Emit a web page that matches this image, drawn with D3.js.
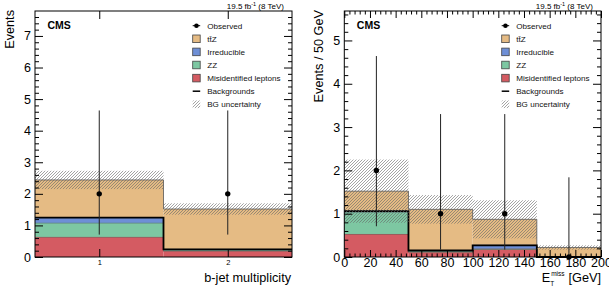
<!DOCTYPE html>
<html>
<head>
<meta charset="utf-8">
<script src="https://cdn.jsdelivr.net/npm/d3@7"></script>
<style>
  body { margin: 0; background: #fff; }
  svg { display: block; font-family: "Liberation Sans", Arial, Helvetica, sans-serif; }
</style>
</head>
<body>
<div id="chart"></div>
<script>
// ---- data ----
const legendLabels = ["Observed", "tt\u0304Z", "Irreducible", "ZZ", "Misidentified leptons", "Backgrounds", "BG uncertainty"];
const procKeys = ["misid", "zz", "irr", "ttz"];
const procColors = { ttz: "#e5bb84", irr: "#6e8fd6", zz: "#7dc7a2", misid: "#d45b62" };

// b-jet multiplicity panel
const bjetEdges = [0.5, 1.5, 2.5];
const bjetTicks = [1, 2];
const bjetMisid = [0.62, 0.18];
const bjetZZ    = [0.45, 0.03];
const bjetIrr   = [0.18, 0.03];
const bjetTtz   = [1.19, 1.28];
const bjetUnc   = [0.29, 0.18];
const bjetObs   = [2, 2];
const bjetObsLo = [0.71, 0.71];
const bjetObsHi = [4.64, 4.64];

// MET panel
const metEdges = [0, 50, 100, 150, 200];
const metTicks = [0, 20, 40, 60, 80, 100, 120, 140, 160, 180, 200];
const metMisid = [0.52, 0.10, 0.18, 0.00];
const metZZ    = [0.51, 0.03, 0.00, 0.00];
const metIrr   = [0.03, 0.02, 0.09, 0.00];
const metTtz   = [0.46, 0.95, 0.60, 0.22];
const metUnc   = [0.73, 0.33, 0.44, 0.05];
const metObs   = [2, 1, 1, 0];
const metObsLo = [0.71, 0.17, 0.17, 0];
const metObsHi = [4.64, 3.30, 3.30, 1.84];

const W = 609, H = 287;
const svg = d3.select("#chart").append("svg").attr("width", W).attr("height", H);

// hatch pattern for the uncertainty band
svg.append("defs").append("pattern")
   .attr("id", "hatch").attr("patternUnits", "userSpaceOnUse")
   .attr("width", 3).attr("height", 3)
   .append("path")
   .attr("d", "M-1,1 l2,-2 M0,3 l3,-3 M2,4 l2,-2")
   .attr("stroke", "#666").attr("stroke-width", 0.6);

function drawPanel(o) {
  const x = d3.scaleLinear().domain([o.edges[0], o.edges[o.edges.length - 1]]).range([o.x0, o.x1]);
  const y = d3.scaleLinear().domain([0, o.yMax]).range([o.y1, o.y0]);
  const g = svg.append("g");

  const bins = o.edges.slice(0, -1).map((e, i) => ({
    lo: e, hi: o.edges[i + 1],
    misid: o.misid[i], zz: o.zz[i], irr: o.irr[i], ttz: o.ttz[i]
  }));
  const layers = d3.stack().keys(procKeys)(bins);

  // stacked fills
  layers.forEach(layer => {
    g.selectAll(null).data(layer).enter().append("rect")
     .attr("x", d => x(d.data.lo))
     .attr("width", d => x(d.data.hi) - x(d.data.lo))
     .attr("y", d => y(d[1]))
     .attr("height", d => y(d[0]) - y(d[1]))
     .attr("fill", procColors[layer.key]);
  });

  const step = d3.line().curve(d3.curveStepAfter).x(d => x(d[0])).y(d => y(d[1]));
  const stepPts = vals => o.edges.map((e, i) => [e, vals[Math.min(i, vals.length - 1)]]);

  // thin outlines of each layer top
  layers.forEach(layer => {
    g.append("path")
     .attr("d", step(stepPts(layer.map(d => d[1]))))
     .attr("fill", "none")
     .attr("stroke", layer.key === "ttz" ? "#555" : d3.color(procColors[layer.key]).darker(1))
     .attr("stroke-width", 0.8);
  });

  // Backgrounds line (sum w/o ttZ)
  const bkg = bins.map(b => b.misid + b.zz + b.irr);
  g.append("path").attr("d", step(stepPts(bkg)))
   .attr("fill", "none").attr("stroke", "#000").attr("stroke-width", 1.8);

  // uncertainty band
  const tot = bins.map(b => b.misid + b.zz + b.irr + b.ttz);
  g.selectAll(null).data(bins).enter().append("rect")
   .attr("x", d => x(d.lo))
   .attr("width", d => x(d.hi) - x(d.lo))
   .attr("y", (d, i) => y(tot[i] + o.unc[i]))
   .attr("height", (d, i) => y(Math.max(0, tot[i] - o.unc[i])) - y(tot[i] + o.unc[i]))
   .attr("fill", "url(#hatch)");

  // observed
  const centers = bins.map(b => (b.lo + b.hi) / 2);
  g.selectAll(null).data(o.obs).enter().append("line")
   .attr("x1", (d, i) => x(centers[i])).attr("x2", (d, i) => x(centers[i]))
   .attr("y1", (d, i) => y(o.obsLo[i])).attr("y2", (d, i) => y(o.obsHi[i]))
   .attr("stroke", "#222").attr("stroke-width", 1);
  g.selectAll(null).data(o.obs).enter().append("circle")
   .attr("cx", (d, i) => x(centers[i])).attr("cy", d => y(d))
   .attr("r", 2.7).attr("fill", "#000");

  // axes (ticks pointing inward on all four sides)
  const yMajor = d3.range(0, Math.floor(o.yMax) + 1);
  const yMinor = d3.range(0, o.yMax, 0.2).filter(v => Math.abs(v - Math.round(v)) > 1e-6);
  const ax = (gen, tr) => {
    const a = g.append("g").attr("transform", tr).call(gen);
    a.select(".domain").remove();
    a.selectAll("line").attr("stroke", "#000");
    return a;
  };
  ax(d3.axisLeft(y).tickValues(yMajor).tickSize(-8).tickPadding(4).tickFormat(d3.format("d")), `translate(${o.x0},0)`)
    .selectAll("text").attr("font-size", 12.5).attr("font-family", null).attr("fill", "#000");
  ax(d3.axisLeft(y).tickValues(yMinor).tickSize(-4).tickFormat(""), `translate(${o.x0},0)`);
  ax(d3.axisRight(y).tickValues(yMajor).tickSize(-8).tickFormat(""), `translate(${o.x1},0)`);
  ax(d3.axisRight(y).tickValues(yMinor).tickSize(-4).tickFormat(""), `translate(${o.x1},0)`);

  ax(d3.axisBottom(x).tickValues(o.xTicks).tickSize(-o.xTickLen).tickPadding(o.xPad).tickFormat(d3.format("d")), `translate(0,${o.y1})`)
    .selectAll("text").attr("font-size", o.xFont).attr("font-family", null).attr("fill", "#000");
  ax(d3.axisTop(x).tickValues(o.xTicks).tickSize(-o.xTickLen).tickFormat(""), `translate(0,${o.y0})`);
  if (o.xMinor) {
    ax(d3.axisBottom(x).tickValues(o.xMinor).tickSize(-3.5).tickFormat(""), `translate(0,${o.y1})`);
    ax(d3.axisTop(x).tickValues(o.xMinor).tickSize(-3.5).tickFormat(""), `translate(0,${o.y0})`);
  }

  // frame
  g.append("rect").attr("x", o.x0).attr("y", o.y0)
   .attr("width", o.x1 - o.x0).attr("height", o.y1 - o.y0)
   .attr("fill", "none").attr("stroke", "#000").attr("stroke-width", 1);

  // CMS label and lumi
  g.append("text").attr("x", o.x0 + 12.5).attr("y", 28.5)
   .attr("font-size", 10.5).attr("font-weight", "bold").text("CMS");
  const lumi = g.append("text").attr("x", o.x1 - 8).attr("y", 8.5)
   .attr("font-size", 8).attr("text-anchor", "end");
  lumi.append("tspan").text("19.5 fb");
  lumi.append("tspan").attr("font-size", 5.5).attr("dy", -3).text("-1");
  lumi.append("tspan").attr("dy", 3).text(" (8 TeV)");

  // y title
  g.append("text")
   .attr("transform", `translate(${o.x0 - 21.5},${o.y0 - 1}) rotate(-90)`)
   .attr("text-anchor", "end").attr("font-size", 12.7).text(o.yTitle);

  // legend
  const lx = o.lx, rows = [25.7, 38.8, 51.9, 65, 78.1, 91.2, 104.3];
  const lg = g.append("g");
  rows.forEach((ry, i) => {
    lg.append("text").attr("x", lx + 14.5).attr("y", ry + 3)
      .attr("font-size", 8.1).attr("fill", "#111").text(legendLabels[i]);
  });
  lg.append("line").attr("x1", lx).attr("x2", lx + 7.5).attr("y1", rows[0]).attr("y2", rows[0])
    .attr("stroke", "#000").attr("stroke-width", 1);
  lg.append("circle").attr("cx", lx + 3.75).attr("cy", rows[0]).attr("r", 2.3);
  ["ttz", "irr", "zz", "misid"].forEach((k, j) => {
    lg.append("rect").attr("x", lx).attr("y", rows[j + 1] - 3.8).attr("width", 7.5).attr("height", 7.6)
      .attr("fill", procColors[k]).attr("stroke", "#444").attr("stroke-width", 0.8);
  });
  lg.append("line").attr("x1", lx).attr("x2", lx + 7.5).attr("y1", rows[5]).attr("y2", rows[5])
    .attr("stroke", "#000").attr("stroke-width", 1.5);
  lg.append("rect").attr("x", lx).attr("y", rows[6] - 3.8).attr("width", 7.5).attr("height", 7.6)
    .attr("fill", "url(#hatch)");

  return g;
}

const left = drawPanel({
  x0: 35, x1: 292, y0: 11, y1: 257, yMax: 7.79,
  edges: bjetEdges, misid: bjetMisid, zz: bjetZZ, irr: bjetIrr, ttz: bjetTtz,
  unc: bjetUnc, obs: bjetObs, obsLo: bjetObsLo, obsHi: bjetObsHi,
  xTicks: bjetTicks, xTickLen: 8, xFont: 7.5, xPad: 3,
  yTitle: "Events", lx: 192.7
});
left.append("text").attr("x", 291).attr("y", 281.5).attr("text-anchor", "end")
    .attr("font-size", 12.7).text("b-jet multiplicity");

const right = drawPanel({
  x0: 344.3, x1: 601, y0: 11, y1: 257, yMax: 5.68,
  edges: metEdges, misid: metMisid, zz: metZZ, irr: metIrr, ttz: metTtz,
  unc: metUnc, obs: metObs, obsLo: metObsLo, obsHi: metObsHi,
  xTicks: metTicks, xMinor: d3.range(0, 200, 4).filter(v => v % 20 !== 0),
  xTickLen: 7, xFont: 12.5, xPad: 1,
  yTitle: "Events / 50 GeV", lx: 501.7
});

// E_T^miss [GeV] title
const tGeV = right.append("text").attr("x", 601).attr("y", 282).attr("text-anchor", "end")
    .attr("font-size", 12.7).text("[GeV]");
const wGeV = tGeV.node().getComputedTextLength();
const xMiss = 601 - wGeV - 4;
const tMiss = right.append("text").attr("x", xMiss).attr("y", 276).attr("text-anchor", "end")
    .attr("font-size", 6.5).text("miss");
const wMiss = tMiss.node().getComputedTextLength() + 1;
right.append("text").attr("x", xMiss - wMiss).attr("y", 286).attr("text-anchor", "start")
    .attr("font-size", 6.5).text("T");
right.append("text").attr("x", xMiss - wMiss).attr("y", 282).attr("text-anchor", "end")
    .attr("font-size", 12.7).text("E");
</script>
</body>
</html>
